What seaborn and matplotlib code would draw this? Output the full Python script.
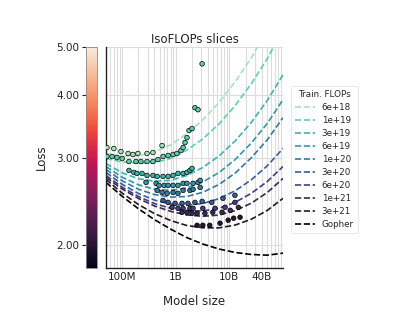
import numpy as np
import pandas as pd
import matplotlib
matplotlib.use("Agg")
import matplotlib.pyplot as plt
import matplotlib.ticker as mticker
from matplotlib.colors import LogNorm
from matplotlib.lines import Line2D
import seaborn as sns

# ---------------- data ----------------
budgets = ["6e+18", "1e+19", "3e+19", "6e+19", "1e+20", "3e+20", "6e+20", "1e+21", "3e+21"]
x_tick_values = [1e8, 1e9, 1e10, 4e10]
x_tick_labels = ["100M", "1B", "10B", "40B"]
loss_ticks = [2.0, 3.0, 4.0, 5.0]
loss_tick_labels = ["2.00", "3.00", "4.00", "5.00"]

# fitted IsoFLOP curves (dashed), read at these model sizes
curve_sizes = [5e7, 1e8, 2e8, 4e8, 8e8, 1.6e9, 3.2e9, 6.4e9, 1.28e10, 2.56e10, 5.12e10, 1e11]
curve_6e18 = [3.056, 3.017, 3.024, 3.076, 3.180, 3.348, 3.570, 3.869, 4.257, 4.757, 5.40, 6.22]
curve_1e19 = [2.986, 2.940, 2.920, 2.929, 2.986, 3.103, 3.270, 3.502, 3.814, 4.218, 4.743, 5.42]
curve_3e19 = [2.918, 2.795, 2.720, 2.688, 2.699, 2.759, 2.864, 3.021, 3.238, 3.528, 3.908, 4.397]
curve_6e19 = [2.878, 2.739, 2.645, 2.591, 2.577, 2.607, 2.679, 2.798, 2.971, 3.206, 3.515, 3.919]
curve_1e20 = [2.839, 2.694, 2.591, 2.528, 2.498, 2.505, 2.554, 2.648, 2.791, 2.996, 3.258, 3.607]
curve_3e20 = [2.800, 2.651, 2.541, 2.464, 2.419, 2.405, 2.425, 2.480, 2.572, 2.706, 2.889, 3.127]
curve_6e20 = [2.761, 2.616, 2.506, 2.425, 2.372, 2.344, 2.343, 2.373, 2.438, 2.542, 2.686, 2.878]
curve_1e21 = [2.736, 2.594, 2.483, 2.398, 2.339, 2.300, 2.286, 2.299, 2.346, 2.429, 2.553, 2.723]
curve_3e21 = [2.711, 2.545, 2.415, 2.315, 2.242, 2.191, 2.168, 2.167, 2.195, 2.255, 2.350, 2.484]
curve_gopher = [2.674, 2.508, 2.368, 2.251, 2.155, 2.072, 2.011, 1.965, 1.934, 1.916, 1.910, 1.928]

# training runs (dots)
n_6e18 = [5.2e7, 7.0e7, 9.5e7, 1.29e8, 1.59e8, 1.97e8, 2.91e8, 3.76e8, 5.55e8]
l_6e18 = [3.141, 3.127, 3.084, 3.056, 3.042, 3.056, 3.056, 3.070, 3.170]
n_1e19 = [5.2e7, 6.5e7, 8.0e7, 1.0e8, 1.34e8, 1.81e8, 2.24e8, 2.91e8, 3.76e8, 4.66e8, 5.8e8, 7.2e8,
          8.9e8, 1.05e9, 1.25e9, 1.37e9, 1.49e9, 1.62e9, 1.77e9, 2.01e9, 2.28e9, 2.6e9, 3.1e9]
l_1e19 = [3.014, 3.014, 3.000, 2.986, 2.945, 2.945, 2.945, 2.945, 2.945, 2.972, 3.014, 3.028,
          3.042, 3.056, 3.098, 3.141, 3.214, 3.289, 3.398, 3.430, 3.776, 3.742, 4.626]
n_3e19 = [1.34e8, 1.66e8, 1.89e8, 2.35e8, 2.91e8, 3.76e8, 4.5e8, 5.8e8, 7.2e8, 8.9e8, 1.1e9, 1.37e9,
          1.62e9, 1.84e9, 2.01e9]
l_3e19 = [2.826, 2.800, 2.787, 2.787, 2.761, 2.761, 2.749, 2.749, 2.749, 2.761, 2.787, 2.787,
          2.800, 2.826, 2.852]
n_6e19 = [2.79e8, 4.3e8, 4.87e8, 6.05e8, 7.2e8, 8.9e8, 1.1e9, 1.37e9, 1.62e9, 2.1e9, 2.6e9, 2.85e9]
l_6e19 = [2.674, 2.662, 2.637, 2.637, 2.637, 2.637, 2.637, 2.662, 2.662, 2.662, 2.674, 2.699]
n_1e20 = [4.5e8, 5.55e8, 6.9e8, 8.9e8, 1.1e9, 1.37e9, 1.84e9, 2.1e9, 2.85e9]
l_1e20 = [2.577, 2.553, 2.542, 2.553, 2.542, 2.577, 2.577, 2.589, 2.612]
n_3e20 = [5.8e8, 7.2e8, 9.7e8, 1.31e9, 1.69e9, 2.28e9, 3.1e9, 4.7e9, 7.6e9, 1.27e10]
l_3e20 = [2.460, 2.438, 2.427, 2.427, 2.427, 2.438, 2.449, 2.438, 2.484, 2.519]
n_6e20 = [8.5e8, 1.1e9, 1.37e9, 1.84e9, 2.1e9, 3.2e9, 5.4e9, 8.3e9, 1.27e10]
l_6e20 = [2.383, 2.372, 2.372, 2.372, 2.372, 2.372, 2.372, 2.383, 2.438]
n_1e21 = [1.31e9, 1.62e9, 2.01e9, 2.5e9, 3.5e9, 4.9e9, 7.3e9, 1.04e10, 1.47e10]
l_1e21 = [2.329, 2.329, 2.318, 2.318, 2.318, 2.329, 2.329, 2.350, 2.383]
n_3e21 = [2.5e9, 3.2e9, 4.3e9, 6.7e9, 9.5e9, 1.2e10, 1.58e10]
l_3e21 = [2.193, 2.193, 2.193, 2.214, 2.245, 2.266, 2.276]

# ---------------- tables ----------------
curve_losses = [curve_6e18, curve_1e19, curve_3e19, curve_6e19, curve_1e20,
                curve_3e20, curve_6e20, curve_1e21, curve_3e21, curve_gopher]
line_names = budgets + ["Gopher"]
lines_df = pd.concat([pd.DataFrame({"size": curve_sizes, "loss": l, "budget": name})
                      for name, l in zip(line_names, curve_losses)], ignore_index=True)

dot_n = [n_6e18, n_1e19, n_3e19, n_6e19, n_1e20, n_3e20, n_6e20, n_1e21, n_3e21]
dot_l = [l_6e18, l_1e19, l_3e19, l_6e19, l_1e20, l_3e20, l_6e20, l_1e21, l_3e21]
dots_df = pd.concat([pd.DataFrame({"size": n, "loss": l, "budget": b})
                     for b, n, l in zip(budgets, dot_n, dot_l)], ignore_index=True)

# ---------------- plot ----------------
sns.set_theme(style="white")
plt.rcParams["font.family"] = ["DejaVu Sans"]

W, H = 416, 322
fig = plt.figure(figsize=(W / 100, H / 100), dpi=100)
ax = fig.add_axes([106 / W, 54 / H, 177 / W, 221 / H])
cax = fig.add_axes([86 / W, 54 / H, 11 / W, 221 / H])

palette = dict(zip(budgets, sns.color_palette("mako_r", len(budgets))))
palette["Gopher"] = "black"

sns.lineplot(data=lines_df, x="size", y="loss", hue="budget", hue_order=line_names,
             palette=palette, estimator=None, sort=True, linestyle="--", linewidth=1.2,
             legend=False, ax=ax, zorder=2)
sns.scatterplot(data=dots_df, x="size", y="loss", hue="budget", hue_order=budgets,
                palette=palette, s=11, edgecolor="black", linewidth=0.5,
                legend=False, ax=ax, zorder=3)

ax.set_xscale("log")
ax.set_yscale("log")
ax.set_xlim(5e7, 1e11)
ax.set_ylim(1.8, 5.0)

ax.set_xticks(x_tick_values)
ax.set_xticklabels(x_tick_labels)
ax.xaxis.set_minor_locator(mticker.LogLocator(base=10, subs=np.arange(2, 10), numticks=50))
ax.xaxis.set_minor_formatter(mticker.NullFormatter())
ax.set_yticks(loss_ticks)
ax.yaxis.set_minor_locator(mticker.NullLocator())
ax.set_yticklabels([])
ax.tick_params(axis="both", which="both", length=0)
ax.tick_params(axis="x", labelsize=7.5, pad=3, colors="#222222")

ax.grid(True, which="major", color="#dcdcdc", linewidth=0.8)
ax.grid(True, which="minor", axis="x", color="#dcdcdc", linewidth=0.8)
ax.set_axisbelow(True)
for s in ["top", "right"]:
    ax.spines[s].set_visible(False)
for s in ["left", "bottom"]:
    ax.spines[s].set_color("#222222")
    ax.spines[s].set_linewidth(1.0)

ax.set_xlabel("Model size", fontsize=8.5, labelpad=9, color="#222222")
ax.set_ylabel("")
ax.set_title("IsoFLOPs slices", fontsize=8.5, pad=3, color="#222222")

# colorbar
sm = plt.cm.ScalarMappable(norm=LogNorm(1.8, 5.0), cmap=sns.color_palette("rocket", as_cmap=True))
cb = fig.colorbar(sm, cax=cax)
cb.set_ticks(loss_ticks)
cb.set_ticklabels(loss_tick_labels)
cax.minorticks_off()
cax.yaxis.set_ticks_position("left")
cax.yaxis.set_label_position("left")
cax.tick_params(labelsize=7.5, length=3, width=0.8, pad=2, colors="#222222")
cb.outline.set_linewidth(0.6)
cb.outline.set_edgecolor("#888888")
cb.set_label("Loss", fontsize=8.5, labelpad=6, color="#222222")

# legend
handles = [Line2D([0], [0], color=palette[n], linestyle="--", linewidth=1.2) for n in line_names]
leg = fig.legend(handles, line_names, title="Train. FLOPs", loc="upper left",
                 bbox_to_anchor=(287 / W, 1 - 82 / H), fontsize=6.3, title_fontsize=6.3,
                 frameon=True, fancybox=True, handlelength=2.2, handletextpad=0.8,
                 labelspacing=0.45, borderpad=0.45)
leg.get_frame().set_edgecolor("#dddddd")
leg.get_frame().set_linewidth(0.6)

fig.savefig("out.png", dpi=100)
